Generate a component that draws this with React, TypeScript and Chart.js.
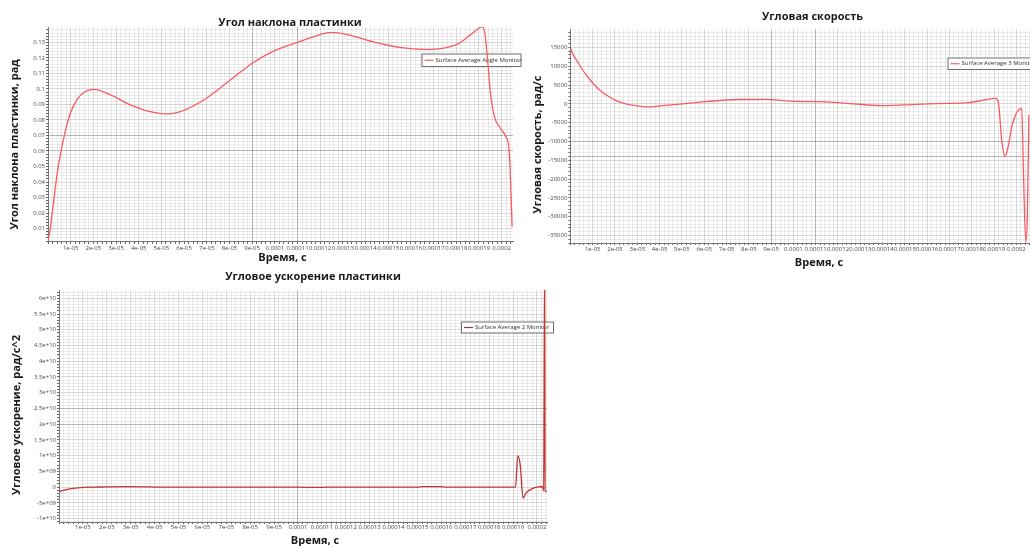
import React, { useEffect, useRef } from 'react';
import { Chart, registerables } from 'chart.js';

Chart.register(...registerables);

const X_TICK_LABELS = [
  '1e-05', '2e-05', '3e-05', '4e-05', '5e-05', '6e-05', '7e-05', '8e-05', '9e-05',
  '0.0001', '0.00011', '0.00012', '0.00013', '0.00014', '0.00015', '0.00016',
  '0.00017', '0.00018', '0.00019', '0.0002',
];

const ANGLE_TIME = [
  0, 0.08, 0.22, 0.4, 0.55, 0.8, 1.0, 1.25, 1.6, 2.0, 2.5, 3.0, 3.5, 4.0, 4.5, 5.0, 5.3,
  5.8, 6.4, 7.0, 7.8, 8.5, 9.0, 9.9, 11.0, 12.0, 12.5, 13.2, 14.3, 15.5, 16.6, 17.5, 18.1,
  18.7, 19.15, 19.25, 19.38, 19.5, 19.68, 19.95, 20.19, 20.3, 20.37, 20.46,
];
const ANGLE_VALUE = [
  0.002, 0.008, 0.0242, 0.045, 0.058, 0.075, 0.085, 0.0925, 0.098, 0.0997, 0.0978, 0.0945,
  0.0905, 0.0876, 0.0853, 0.0841, 0.0839, 0.0852, 0.089, 0.0942, 0.103, 0.111, 0.1165, 0.124,
  0.13, 0.135, 0.1364, 0.135, 0.1305, 0.1268, 0.1255, 0.1265, 0.1292, 0.1358, 0.14, 0.137,
  0.1186, 0.098, 0.0821, 0.0745, 0.0692, 0.064, 0.05, 0.0113,
];
const ANGLE_Y_LABELS = ['0.01', '0.02', '0.03', '0.04', '0.05', '0.06', '0.07', '0.08', '0.09', '0.1', '0.11', '0.12', '0.13'];

const VEL_TIME = [
  0, 0.08, 0.3, 0.55, 0.8, 1.05, 1.35, 1.65, 2.0, 2.4, 2.9, 3.5, 4.0, 4.9, 6.1, 7.46, 8.8,
  9.7, 10.6, 11.5, 12.7, 13.9, 14.9, 16.4, 17.77, 18.66, 19.08, 19.2, 19.34, 19.49, 19.63,
  19.83, 20.24, 20.31, 20.42, 20.49, 20.56,
];
const VEL_VALUE = [
  15000, 13600, 11400, 9000, 7000, 5200, 3500, 2200, 1000, 150, -450, -800, -550, -50, 600,
  1150, 1200, 800, 600, 500, 0, -450, -300, 80, 250, 1150, 1450, 100, -9600, -14000, -11400,
  -5200, -1200, -16700, -36700, -30000, -2950,
];
const VEL_Y_LABELS = ['-35000', '-30000', '-25000', '-20000', '-15000', '-10000', '-5000', '0', '5000', '10000', '15000'];

const ACC_TIME = [
  0, 0.3, 0.6, 1.0, 1.5, 2.0, 2.8, 3.7, 4.0, 10.0, 10.8, 11.2, 15.0, 15.2, 16.0, 16.2,
  19.1, 19.2, 19.3, 19.42, 19.55, 19.8, 20.05, 20.22, 20.28, 20.32, 20.34, 20.42,
];
const ACC_VALUE = [
  -1.4e9, -0.8e9, -0.4e9, -0.1e9, 0, 0.1e9, 0.15e9, 0.1e9, 0, 0, -0.1e9, 0, 0, 0.15e9,
  0.15e9, 0, 0, 1.0e10, 7.0e9, -3.5e9, -1.8e9, -0.5e9, 0.1e9, 0.2e9, -1.2e9, 7.0e10, -1.2e9,
  -1.4e9,
];
const ACC_Y_LABELS = ['-1e+10', '-5e+09', '0', '5e+09', '1e+10', '1.5e+10', '2e+10', '2.5e+10', '3e+10', '3.5e+10', '4e+10', '4.5e+10', '5e+10', '5.5e+10', '6e+10'];

const TICK_FONT = { family: '"Open Sans", "DejaVu Sans", sans-serif', size: 6 };
const BOLD_FAMILY = '"Open Sans", "DejaVu Sans", sans-serif';

type Spec = {
  left: number; top: number; width: number; height: number;
  title: string; titlePadTop: number; titlePadBottom: number;
  yAxisWidth: number; rightGap: number; xAxisHeight: number;
  xMax: number; xTickLen: number; xTickPad: number;
  yMin: number; yMax: number; yStep: number; yMajor: number; yLabels: string[];
  darkX: number[]; darkY: number[];
  xs: number[]; ys: number[]; color: string; legendColor: string;
  legend: { x: number; y: number; w: number; h: number; text: string };
  xTitle: { x: number; y: number; text: string };
  yTitle: { x: number; y: number; text: string };
};

const decorPlugin = {
  id: 'decor',
  beforeDatasetsDraw(chart: any, _args: any, opts: any) {
    const ctx = chart.ctx;
    const L = opts.legend;
    if (!L) return;
    ctx.save();
    ctx.fillStyle = '#ffffff';
    ctx.fillRect(L.x, L.y, L.w, L.h);
    ctx.strokeStyle = '#6e6e6e';
    ctx.lineWidth = 1;
    ctx.strokeRect(L.x + 0.5, L.y + 0.5, L.w, L.h);
    const mid = L.y + L.h / 2 + 0.5;
    ctx.strokeStyle = opts.legendColor;
    ctx.lineWidth = 1.2;
    ctx.beginPath();
    ctx.moveTo(L.x + 3, mid);
    ctx.lineTo(L.x + 12, mid);
    ctx.stroke();
    ctx.fillStyle = '#333';
    ctx.font = `6px ${TICK_FONT.family}`;
    ctx.textBaseline = 'middle';
    ctx.textAlign = 'left';
    ctx.fillText(L.text, L.x + 14, mid);
    ctx.restore();
  },
  afterDraw(chart: any, _args: any, opts: any) {
    const ctx = chart.ctx;
    ctx.save();
    ctx.fillStyle = '#1a1a1a';
    ctx.font = `bold 11px ${BOLD_FAMILY}`;
    ctx.textAlign = 'center';
    ctx.textBaseline = 'middle';
    if (opts.xTitle) ctx.fillText(opts.xTitle.text, opts.xTitle.x, opts.xTitle.y);
    if (opts.yTitle) {
      ctx.translate(opts.yTitle.x, opts.yTitle.y);
      ctx.rotate(-Math.PI / 2);
      ctx.fillText(opts.yTitle.text, 0, 0);
    }
    ctx.restore();
  },
};

function labelFor(v: number, labels: string[], tol: number): string {
  for (const l of labels) {
    if (Math.abs(Number(l) - v) < tol) return l;
  }
  return '';
}

function isMultiple(v: number, step: number): boolean {
  const r = v / step;
  return Math.abs(r - Math.round(r)) < 1e-6;
}

function stepTicks(min: number, max: number, step: number) {
  const out: { value: number }[] = [];
  const k0 = Math.ceil(min / step - 1e-9);
  const k1 = Math.floor(max / step + 1e-9);
  for (let k = k0; k <= k1; k++) out.push({ value: k * step });
  return out;
}

const MINOR = 'rgba(0,0,0,0.07)';
const MAJOR = 'rgba(0,0,0,0.14)';
const DARK = 'rgba(0,0,0,0.28)';
const TICK_TEXT = '#4a4a4a';

function buildConfig(s: Spec): any {
  return {
    type: 'line',
    data: {
      datasets: [
        {
          label: s.legend.text,
          data: s.xs.map((x, i) => ({ x, y: s.ys[i] })),
          borderColor: s.color,
          backgroundColor: s.color,
          borderWidth: 1.3,
          pointRadius: 0,
          cubicInterpolationMode: 'monotone',
          fill: false,
          yAxisID: 'y',
          xAxisID: 'x',
        },
      ],
    },
    options: {
      animation: false,
      responsive: false,
      maintainAspectRatio: false,
      devicePixelRatio: 1,
      events: [],
      layout: { padding: 0 },
      plugins: {
        legend: { display: false },
        tooltip: { enabled: false },
        title: {
          display: true,
          text: s.title,
          fullSize: true,
          color: '#1a1a1a',
          font: { family: BOLD_FAMILY, size: 11, weight: 'bold', lineHeight: 1.2 },
          padding: { top: s.titlePadTop, bottom: s.titlePadBottom },
        },
        decor: {
          legend: s.legend,
          legendColor: s.legendColor,
          xTitle: s.xTitle,
          yTitle: s.yTitle,
        },
      },
      scales: {
        x: {
          type: 'linear',
          min: 0,
          max: s.xMax,
          ticks: {
            autoSkip: false,
            maxRotation: 0,
            minRotation: 0,
            padding: s.xTickPad,
            color: TICK_TEXT,
            font: TICK_FONT,
          },
          grid: {
            tickLength: s.xTickLen,
            tickColor: '#666',
            lineWidth: 1,
            color: (c: any) => {
              const v = c.tick ? c.tick.value : undefined;
              if (v === undefined) return MINOR;
              if (s.darkX.some((d) => Math.abs(v - d) < 1e-3)) return DARK;
              return isMultiple(v, 1) ? MAJOR : MINOR;
            },
          },
          border: { display: true, color: '#777', width: 1 },
          afterBuildTicks: (sc: any) => {
            sc.ticks = stepTicks(0, s.xMax, 0.2);
          },
          afterTickToLabelConversion: (sc: any) => {
            sc.ticks.forEach((t: any) => {
              const k = Math.round(t.value);
              t.label = Math.abs(t.value - k) < 1e-6 && k >= 1 && k <= X_TICK_LABELS.length ? X_TICK_LABELS[k - 1] : '';
            });
          },
          afterFit: (sc: any) => {
            sc.height = s.xAxisHeight;
            sc.paddingLeft = 0;
            sc.paddingRight = 0;
          },
        },
        y: {
          type: 'linear',
          position: 'left',
          min: s.yMin,
          max: s.yMax,
          ticks: {
            autoSkip: false,
            padding: 1,
            color: TICK_TEXT,
            font: TICK_FONT,
          },
          grid: {
            tickLength: 2,
            tickColor: '#666',
            lineWidth: 1,
            color: (c: any) => {
              const v = c.tick ? c.tick.value : undefined;
              if (v === undefined) return MINOR;
              if (s.darkY.some((d) => Math.abs(v - d) < s.yStep * 1e-3)) return DARK;
              return isMultiple(v, s.yMajor) ? MAJOR : MINOR;
            },
          },
          border: { display: true, color: '#777', width: 1 },
          afterBuildTicks: (sc: any) => {
            sc.ticks = stepTicks(s.yMin, s.yMax, s.yStep);
          },
          afterTickToLabelConversion: (sc: any) => {
            sc.ticks.forEach((t: any) => {
              t.label = labelFor(t.value, s.yLabels, s.yStep * 1e-3);
            });
          },
          afterFit: (sc: any) => {
            sc.width = s.yAxisWidth;
            sc.paddingTop = 0;
            sc.paddingBottom = 0;
          },
        },
        yr: {
          type: 'linear',
          position: 'right',
          display: true,
          grid: { display: false, drawTicks: false },
          ticks: { display: false },
          border: { display: false },
          afterFit: (sc: any) => {
            sc.width = s.rightGap;
          },
        },
      },
    },
    plugins: [decorPlugin],
  };
}

const RED = 'rgb(248, 90, 100)';

const SPECS: Spec[] = [
  {
    left: 0, top: 0, width: 580, height: 270,
    title: 'Угол наклона пластинки', titlePadTop: 16.4, titlePadBottom: -2.6,
    yAxisWidth: 48, rightGap: 67, xAxisHeight: 29,
    xMax: 20.5, xTickLen: 3, xTickPad: 1,
    yMin: 0.002, yMax: 0.1399, yStep: 0.002, yMajor: 0.01, yLabels: ANGLE_Y_LABELS,
    darkX: [9, 11], darkY: [0.06, 0.07],
    xs: ANGLE_TIME, ys: ANGLE_VALUE, color: RED, legendColor: RED,
    legend: { x: 421.5, y: 53.5, w: 99, h: 12.5, text: 'Surface Average Angle Monitor' },
    xTitle: { x: 282.5, y: 258, text: 'Время, с' },
    yTitle: { x: 15, y: 144.5, text: 'Угол наклона пластинки, рад' },
  },
  {
    left: 520, top: 0, width: 585, height: 270,
    title: 'Угловая скорость', titlePadTop: 10.4, titlePadBottom: 5.4,
    yAxisWidth: 50.4, rightGap: 73, xAxisHeight: 27,
    xMax: 20.7, xTickLen: 2, xTickPad: 1,
    yMin: -37000, yMax: 19900, yStep: 1000, yMajor: 5000, yLabels: VEL_Y_LABELS,
    darkX: [9, 11], darkY: [-10000, -14000],
    xs: VEL_TIME, ys: VEL_VALUE, color: RED, legendColor: RED,
    legend: { x: 427.5, y: 57.5, w: 112, h: 11.5, text: 'Surface Average 3 Monitor' },
    xTitle: { x: 299, y: 263, text: 'Время, с' },
    yTitle: { x: 18, y: 144.5, text: 'Угловая скорость, рад/с' },
  },
  {
    left: 0, top: 265, width: 626, height: 281,
    title: 'Угловое ускорение пластинки', titlePadTop: 5.1, titlePadBottom: 6.7,
    yAxisWidth: 59, rightGap: 79, xAxisHeight: 24,
    xMax: 20.42, xTickLen: 2, xTickPad: 0,
    yMin: -1.108e10, yMax: 6.264e10, yStep: 1e9, yMajor: 5e9, yLabels: ACC_Y_LABELS,
    darkX: [10], darkY: [2e10, 2.5e10],
    xs: ACC_TIME, ys: ACC_VALUE, color: 'rgb(196, 52, 52)', legendColor: 'rgb(140, 60, 60)',
    legend: { x: 461, y: 56.5, w: 92, h: 11, text: 'Surface Average 2 Monitor' },
    xTitle: { x: 315, y: 276, text: 'Время, с' },
    yTitle: { x: 17, y: 150, text: 'Угловое ускорение, рад/с^2' },
  },
];

function PlotCanvas({ spec }: { spec: Spec }) {
  const ref = useRef<HTMLCanvasElement | null>(null);
  useEffect(() => {
    if (!ref.current) return;
    const chart = new Chart(ref.current, buildConfig(spec));
    return () => chart.destroy();
  }, [spec]);
  return (
    <canvas
      ref={ref}
      width={spec.width}
      height={spec.height}
      style={{ position: 'absolute', left: spec.left, top: spec.top, width: spec.width, height: spec.height }}
    />
  );
}

export default function App() {
  return (
    <div
      style={{
        position: 'fixed', left: 0, top: 0, width: 1030, height: 546,
        overflow: 'hidden', background: '#ffffff',
      }}
    >
      {SPECS.map((s, i) => (
        <PlotCanvas key={i} spec={s} />
      ))}
    </div>
  );
}
